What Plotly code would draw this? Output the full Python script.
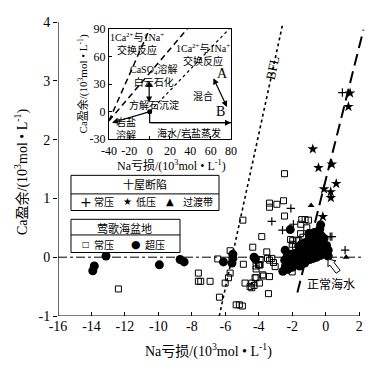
import plotly.graph_objects as go

# ---------------- main chart data ----------------
x_ticks = [-16, -14, -12, -10, -8, -6, -4, -2, 0, 2]
x_tick_text = ["-16", "-14", "-12", "-10", "-8", "-6", "-4", "-2", "0", "2"]
y_ticks = [-1, 0, 1, 2, 3, 4]
y_tick_text = ["-1", "0", "1", "2", "3", "4"]

# Yinggehai basin, normal pressure (open squares)
yg_normal_x = [-12.39, -7.61, -7.61, -7.47, -6.91, -6.45, -6.35, -6.01, -5.81, -5.71, -5.71,
               -5.35, -5.16, -4.98, -4.95, -4.92, -4.82, -4.42, -4.42, -4.28, -4.22, -4.16,
               -4.36, -3.96, -3.92, -3.82, -3.96, -3.76, -3.52, -3.42, -3.36, -3.36, -2.92,
               -3.36, -2.52, -2.46, -2.46, -1.43, -1.23, -1.03, -1.13, -0.93, -1.49,
               -3.48, -3.36, -3.22, -3.12, -3.02, -4.02, -3.92, -4.16, -3.72, -4.16, -4.52,
               -1.97, -1.73, -1.36, -2.3, -2.2, -2.0, -1.8, -1.6, -2.1, -1.5, -2.35, -2.0]
yg_normal_y = [-0.54, -0.27, -0.41, -0.41, -0.41, -0.03, -0.68, -0.44, -0.35, 0.11, -0.27,
               -0.81, -0.81, -0.83, 0.63, -0.12, -0.44, -0.44, -0.52, -0.48, -0.35, -0.15,
               0.17, -0.44, -0.04, 0.35, -0.13, -0.30, 0.09, -0.62, 0.92, 0.85, 0.90,
               -0.33, 0.96, 1.42, 0.70, 0.64, 0.64, 0.63, 0.50, 0.42, 0.56,
               -0.02, -0.05, -0.02, -0.09, -0.16, -0.13, -0.13, -0.20, -0.32, -0.35, -0.50,
               0.28, 0.29, 0.34, 0.05, -0.05, 0.22, 0.18, 0.28, 0.30, 0.40, -0.22, -0.25]

# Yinggehai basin, overpressure (filled circles)
yg_over_x = [-13.92, -13.83, -13.13, -9.94, -8.70, -8.46, -6.11, -5.55, -5.55, -5.60,
             -4.28, -4.20, -2.42, -2.12, -2.56,
             -2.45, -2.40, -2.30, -2.25, -2.15, -2.05, -2.00, -1.90, -1.80, -1.75, -1.65,
             -1.55, -1.50, -1.40, -1.30, -1.25, -1.15, -1.05, -0.95, -0.85, -0.75, -0.65,
             -0.55, -0.45, -0.30, -0.15, 0.00, 0.15,
             -1.60, -1.45, -1.30, -1.20, -1.10, -1.00, -0.90, -0.80, -0.70, -0.60, -0.50,
             -0.40, -0.30, -0.20, -0.10, 0.05, 0.15, -0.85, -0.65, -0.45, -0.35, -0.30,
             -0.25, -0.10, -1.00]
yg_over_y = [-0.23, -0.15, 0.02, -0.13, -0.04, -0.08, -0.08, -0.02, 0.05, -0.10,
             0.00, -0.03, 0.12, 0.47, -0.24,
             -0.05, -0.15, 0.02, -0.20, -0.08, 0.05, -0.17, -0.05, 0.06, -0.12, -0.02,
             -0.15, 0.05, -0.06, 0.08, -0.10, 0.00, 0.10, -0.04, 0.06, -0.02, 0.08,
             0.00, 0.10, 0.03, 0.08, 0.05, 0.02,
             0.18, 0.22, 0.16, 0.25, 0.20, 0.30, 0.18, 0.26, 0.20, 0.32, 0.22,
             0.28, 0.18, 0.25, 0.16, 0.20, 0.12, 0.38, 0.42, 0.40, 0.48, 0.55,
             0.36, 0.32, 0.40]

# Shiwu fault depression
sw_normal_x = [-3.22, -2.08, -1.93, -2.58, 0.37, 1.16, 1.00, 0.27]   # "+"
sw_normal_y = [0.61, 0.83, 0.56, 0.46, 0.35, 0.12, 2.80, 0.35]
sw_low_x = [1.46, 1.36, -0.77, -0.43, 0.37, 0.63, 0.30, 0.31, -0.10, -0.17]  # stars
sw_low_y = [2.79, 2.56, 1.84, 1.52, 1.58, 1.25, 1.11, 1.01, 1.16, 0.69]
sw_trans_x = [-0.87, 1.22, -0.70]  # triangles
sw_trans_y = [0.88, 0.00, 0.45]

# reference lines
bfl_x = [-6.36, -2.59]
bfl_y = [-1.0, 3.94]
sea_x = [-1.69, 2.26]
sea_y = [-0.60, 3.87]

# ---------------- inset data ----------------
in_x_ticks = [-40, -20, 0, 20, 40, 60, 80]
in_y_ticks = [-30, 0, 30, 60, 90]
ex1_x = [-40, 0]     # steep dashed exchange line
ex1_y = [-10, 90]
ex2_x = [-40, 37]    # second dashed exchange line
ex2_y = [-10, 90]
dot_x = [0, 80]      # dotted line
dot_y = [0, 92]
evap_x = [0, 0, 80]  # seawater / halite evaporation path
evap_y = [0, -12, -12]

serif = "Liberation Serif, Noto Sans CJK SC"
cjk = "Noto Sans CJK SC"

fig = go.Figure()

# main reference lines
fig.add_trace(go.Scatter(x=bfl_x, y=bfl_y, mode="lines",
                         line=dict(color="black", width=1.6, dash="dot"), showlegend=False))
fig.add_trace(go.Scatter(x=sea_x, y=sea_y, mode="lines",
                         line=dict(color="black", width=2, dash="12px,6px"), showlegend=False))

# scatter series
fig.add_trace(go.Scatter(x=yg_normal_x, y=yg_normal_y, mode="markers",
                         marker=dict(symbol="square-open", size=6, color="black", line=dict(width=1)),
                         showlegend=False))
fig.add_trace(go.Scatter(x=yg_over_x, y=yg_over_y, mode="markers",
                         marker=dict(symbol="circle", size=9, color="black"), showlegend=False))
fig.add_trace(go.Scatter(x=sw_normal_x, y=sw_normal_y, mode="markers",
                         marker=dict(symbol="cross-thin", size=6, line=dict(color="black", width=1.2)),
                         showlegend=False))
fig.add_trace(go.Scatter(x=sw_low_x, y=sw_low_y, mode="markers",
                         marker=dict(symbol="star", size=8, color="black"), showlegend=False))
fig.add_trace(go.Scatter(x=sw_trans_x, y=sw_trans_y, mode="markers",
                         marker=dict(symbol="triangle-up", size=6, color="black"), showlegend=False))

# inset lines
for xs, ys, dash, w in [(ex1_x, ex1_y, "6px,4px", 1.5), (ex2_x, ex2_y, "6px,4px", 1.5),
                        (dot_x, dot_y, "dot", 1.2), (evap_x, evap_y, "solid", 1.2)]:
    fig.add_trace(go.Scatter(x=xs, y=ys, mode="lines", xaxis="x2", yaxis="y2",
                             line=dict(color="black", width=w, dash=dash), showlegend=False))
fig.add_trace(go.Scatter(x=[0], y=[0], mode="markers", xaxis="x2", yaxis="y2",
                         marker=dict(size=5, color="black"), showlegend=False))

# The page body has an 8px margin, so the figure is made 8px smaller and margins reduced
fig.update_layout(
    width=380, height=362,
    margin=dict(l=50, r=23, t=7, b=54),
    paper_bgcolor="white", plot_bgcolor="white",
    font=dict(family=serif, size=14, color="black"),
    xaxis=dict(range=[-16, 2.35], tickvals=x_ticks, ticktext=x_tick_text, showgrid=False,
               zeroline=False, showline=False, ticks="inside", ticklen=4, tickcolor="black",
               tickfont=dict(family=serif, size=14)),
    yaxis=dict(range=[-1, 4], tickvals=y_ticks, ticktext=y_tick_text, showgrid=False,
               zeroline=False, showline=False, ticks="outside", ticklen=4, tickcolor="black",
               tickfont=dict(family=serif, size=14)),
    xaxis2=dict(domain=[0.1661, 0.5635], anchor="y2", range=[-40, 80], tickvals=in_x_ticks,
                ticktext=["-40", "-20", "0", "20", "40", "60", "80"],
                showgrid=False, zeroline=False, showline=True, mirror=True, linecolor="black",
                linewidth=1, ticks="inside", ticklen=3, tickcolor="black",
                tickfont=dict(family=serif, size=12)),
    yaxis2=dict(domain=[0.6013, 0.9767], anchor="x2", range=[-30, 90], tickvals=in_y_ticks,
                ticktext=["-30", "0", "30", "60", "90"],
                showgrid=False, zeroline=False, showline=True, mirror=True, linecolor="black",
                linewidth=1, ticks="inside", ticklen=3, tickcolor="black",
                tickfont=dict(family=serif, size=12)),
)

shapes = [
    # main axis lines
    dict(type="line", xref="x", yref="y", x0=-16, x1=2, y0=-1, y1=-1, line=dict(color="black", width=1.2)),
    dict(type="line", xref="x", yref="y", x0=-16, x1=-16, y0=-1, y1=4, line=dict(color="black", width=1.2)),
    # zero line
    dict(type="line", xref="x", yref="y", x0=-16, x1=2.2, y0=0, y1=0,
         line=dict(color="black", width=1, dash="dashdot")),
    # legend boxes
    dict(type="rect", xref="paper", yref="paper", x0=0.0423, x1=0.5244, y0=0.3588, y1=0.4784,
         line=dict(color="black", width=1), fillcolor="white"),
    dict(type="line", xref="paper", yref="paper", x0=0.0423, x1=0.5244, y0=0.4153, y1=0.4153,
         line=dict(color="black", width=1)),
    dict(type="rect", xref="paper", yref="paper", x0=0.0423, x1=0.3974, y0=0.2159, y1=0.3289,
         line=dict(color="black", width=1), fillcolor="white"),
    dict(type="line", xref="paper", yref="paper", x0=0.0423, x1=0.3974, y0=0.2757, y1=0.2757,
         line=dict(color="black", width=1)),
    # hollow arrow pointing at normal seawater
    dict(type="path", xref="x", yref="y",
         path="M 0.866 -0.224 L 0.489 -0.086 L 0.609 -0.061 L 0.148 -0.033 L 0.130 -0.161 "
              "L 0.250 -0.136 L 0.627 -0.274 Z",
         line=dict(color="black", width=1), fillcolor="white"),
]
fig.update_layout(shapes=shapes)

ann = []
def A(text, x, y, xref="paper", yref="paper", size=12, family=cjk, **kw):
    d = dict(text=text, x=x, y=y, xref=xref, yref=yref, showarrow=False,
             xanchor="center", yanchor="middle",
             font=dict(family=family, size=size, color="black"))
    d.update(kw)
    ann.append(d)

# axis titles
A("Ca盈余/(10<sup>3</sup>mol • L<sup>-1</sup>)", -0.117, 0.49, size=14, family=serif, textangle=-90)
A("Na亏损/(10<sup>3</sup>mol • L<sup>-1</sup>)", 0.49, -0.116, size=14, family=serif)
A("BFL", -3.15, 3.22, xref="x", yref="y", size=13, family="Liberation Serif", textangle=-78)
A("正常海水", 0.889, 0.1096, size=12)

# legend text
A("十屋断陷", 0.2834, 0.4485, size=11)
A("+", 0.0912, 0.3887, size=14, family="DejaVu Sans")
A("常压", 0.150, 0.3887, size=10)
A("★", 0.228, 0.3887, size=10, family="DejaVu Sans")
A("低压", 0.287, 0.3887, size=10)
A("▲", 0.365, 0.3887, size=10, family="DejaVu Sans")
A("过渡带", 0.455, 0.3887, size=10)
A("莺歌海盆地", 0.215, 0.299, size=11)
A("□", 0.0912, 0.2425, size=8, family="DejaVu Sans")
A("常压", 0.150, 0.2425, size=10)
A("●", 0.254, 0.2425, size=11, family="DejaVu Sans")
A("超压", 0.316, 0.2425, size=10)

# inset titles
A("Ca盈余/(10<sup>3</sup>mol • L<sup>-1</sup>)", 0.0814, 0.791, size=11, family=serif, textangle=-90)
A("Na亏损/(10<sup>3</sup>mol • L<sup>-1</sup>)", 0.371, 0.512, size=12, family=serif)

# inset labels
X2 = dict(xref="x2", yref="y2")
A("1Ca<sup>2+</sup>与1Na<sup>+</sup><br>交换反应", -12, 74, size=10, family=serif, **X2)
A("1Ca<sup>2+</sup>与1Na<sup>+</sup><br>交换反应", 52, 62.5, size=10, family=serif, **X2)
A("CaSO<sub>4</sub>溶解<br>白云石化", 4, 39.5, size=10, family=serif, **X2)
A("方解石沉淀", 4, 7.5, size=10, **X2)
A("岩盐<br>溶解", -23, -17.5, size=10, **X2)
A("海水/岩盐蒸发", 39, -22.5, size=10, **X2)
A("A", 72, 42, size=14, family="Liberation Serif", **X2)
A("B", 70, -0.3, size=14, family="Liberation Serif", **X2)
A("混合", 52, 18, size=10, **X2)

# inset arrows
def arrow(x0, y0, x1, y1, both=False):
    d = dict(x=x1, y=y1, ax=x0, ay=y0, xref="x2", yref="y2", axref="x2", ayref="y2",
             showarrow=True, arrowhead=2, arrowsize=1, arrowwidth=1.2, arrowcolor="black", text="")
    if both:
        d["arrowside"] = "end+start"
        d["startarrowhead"] = 2
    ann.append(d)

arrow(0, 0, -37, -12)
arrow(0, -12, 80, -12)
arrow(-0.5, 35, -0.5, 10, both=True)
arrow(62, 38, 76, 5, both=True)

fig.update_layout(annotations=ann)
fig.write_html("out.html")
